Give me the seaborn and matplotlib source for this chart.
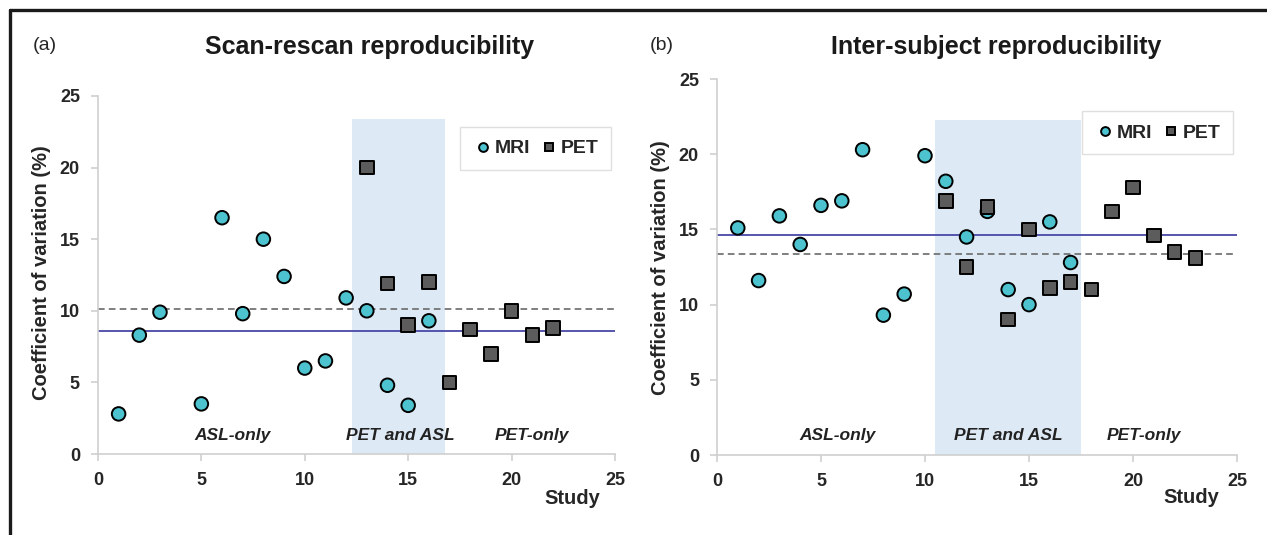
import matplotlib.pyplot as plt
import matplotlib
import seaborn as sns
import pandas as pd
from matplotlib.lines import Line2D

# ---- data ----
scan_mri_study = [1, 2, 3, 5, 6, 7, 8, 9, 10, 11, 12, 13, 14, 15, 16]
scan_mri_cov = [2.8, 8.3, 9.9, 3.5, 16.5, 9.8, 15.0, 12.4, 6.0, 6.5, 10.9, 10.0, 4.8, 3.4, 9.3]
scan_pet_study = [13, 14, 15, 16, 17, 18, 19, 20, 21, 22]
scan_pet_cov = [20.0, 11.9, 9.0, 12.0, 5.0, 8.7, 7.0, 10.0, 8.3, 8.8]

inter_mri_study = [1, 2, 3, 4, 5, 6, 7, 8, 9, 10, 11, 12, 13, 14, 15, 16, 17]
inter_mri_cov = [15.1, 11.6, 15.9, 14.0, 16.6, 16.9, 20.3, 9.3, 10.7, 19.9, 18.2, 14.5, 16.2, 11.0, 10.0, 15.5, 12.8]
inter_pet_study = [11, 12, 13, 14, 15, 16, 17, 18, 19, 20, 21, 22, 23]
inter_pet_cov = [16.9, 12.5, 16.5, 9.0, 15.0, 11.1, 11.5, 11.0, 16.2, 17.8, 14.6, 13.5, 13.1]

scan_mean_mri = 8.6     # solid blue line
scan_mean_pet = 10.1    # dashed line
inter_mean_mri = 14.6
inter_mean_pet = 13.35

scan_band = (12.3, 16.8, 23.4)
inter_band = (10.5, 17.5, 22.3)

region_labels = ['ASL-only', 'PET and ASL', 'PET-only']
scan_label_x = [6.5, 14.6, 21.0]
inter_label_x = [5.8, 14.0, 20.5]

sns.set_style('white')
plt.rcParams['font.family'] = ['Liberation Sans', 'DejaVu Sans']

MRI_COL = '#4ec3d0'
PET_COL = '#5c5c5c'


def make_df(ms, mc, ps, pc):
    d1 = pd.DataFrame({'Study': ms, 'CoV': mc, 'Modality': 'MRI'})
    d2 = pd.DataFrame({'Study': ps, 'CoV': pc, 'Modality': 'PET'})
    return pd.concat([d1, d2], ignore_index=True)


def panel(ax, df, band, mean_mri, mean_pet, label_x):
    ax.axvspan(band[0], band[1], ymin=0, ymax=band[2] / 25, color='#dde9f5', zorder=0, lw=0)
    ax.axhline(mean_pet, color='#6a6a6a', ls=(0, (4, 2.5)), lw=1.2, zorder=1)
    ax.axhline(mean_mri, color='#4848a8', lw=1.3, zorder=1)
    sns.scatterplot(data=df, x='Study', y='CoV', hue='Modality', style='Modality',
                    palette={'MRI': MRI_COL, 'PET': PET_COL},
                    markers={'MRI': 'o', 'PET': 's'}, s=95,
                    edgecolor='black', linewidth=1.4, ax=ax, zorder=3)
    for xx, txt in zip(label_x, region_labels):
        ax.text(xx, 0.8, txt, ha='center', va='bottom', fontsize=12.5,
                fontweight='bold', style='italic', color='#222222')
    ax.set_xlim(0, 25)
    ax.set_ylim(0, 25)
    ax.set_xticks(range(0, 26, 5))
    ax.set_yticks(range(0, 26, 5))
    ax.set_xlabel('')
    ax.set_ylabel('')
    for sp in ['top', 'right']:
        ax.spines[sp].set_visible(False)
    for sp in ['left', 'bottom']:
        ax.spines[sp].set_color('#cfcfcf')
        ax.spines[sp].set_linewidth(1.2)
    ax.tick_params(axis='both', length=5, width=1.2, color='#cfcfcf', pad=8,
                   labelsize=13, direction='out', bottom=True, left=True)
    for t in ax.get_xticklabels() + ax.get_yticklabels():
        t.set_fontweight('bold')
    h, l = ax.get_legend_handles_labels()
    leg = ax.legend(h, l, loc='upper right', bbox_to_anchor=(1.012, 0.94), ncol=2,
                    frameon=True, fancybox=False, fontsize=14, handletextpad=0.1,
                    handlelength=1.0, columnspacing=0.5, markerscale=0.65,
                    borderpad=0.65)
    leg.get_frame().set_edgecolor('#d8d8d8')
    for t in leg.get_texts():
        t.set_fontweight('bold')


fig = plt.figure(figsize=(12.67, 5.35), dpi=100)
ax1 = fig.add_axes([0.0773, 0.1514, 0.4081, 0.6692])
ax2 = fig.add_axes([0.5659, 0.1495, 0.4104, 0.7028])

panel(ax1, make_df(scan_mri_study, scan_mri_cov, scan_pet_study, scan_pet_cov),
      scan_band, scan_mean_mri, scan_mean_pet, scan_label_x)
panel(ax2, make_df(inter_mri_study, inter_mri_cov, inter_pet_study, inter_pet_cov),
      inter_band, inter_mean_mri, inter_mean_pet, inter_label_x)

fig.text(0.292, 0.912, 'Scan-rescan reproducibility', ha='center', va='center',
         fontsize=18, fontweight='bold', color='#1a1a1a')
fig.text(0.786, 0.912, 'Inter-subject reproducibility', ha='center', va='center',
         fontsize=18, fontweight='bold', color='#1a1a1a')
fig.text(0.026, 0.915, '(a)', ha='left', va='center', fontsize=14)
fig.text(0.513, 0.915, '(b)', ha='left', va='center', fontsize=14)

fig.text(0.033, 0.49, 'Coefficient of variation (%)', rotation=90, ha='center',
         va='center', fontsize=14.5, fontweight='bold')
fig.text(0.521, 0.50, 'Coefficient of variation (%)', rotation=90, ha='center',
         va='center', fontsize=14.5, fontweight='bold')
fig.text(0.452, 0.069, 'Study', ha='center', va='center', fontsize=14.5, fontweight='bold')
fig.text(0.940, 0.071, 'Study', ha='center', va='center', fontsize=14.5, fontweight='bold')

# frame lines on top and left, as in the source figure
fig.add_artist(Line2D([0.0079, 1.0], [0.981, 0.981], transform=fig.transFigure,
                      color='#1a1a1a', lw=2.4))
fig.add_artist(Line2D([0.0079, 0.0079], [0.0, 0.981], transform=fig.transFigure,
                      color='#1a1a1a', lw=2.4))

plt.savefig('out.png', dpi=100)
